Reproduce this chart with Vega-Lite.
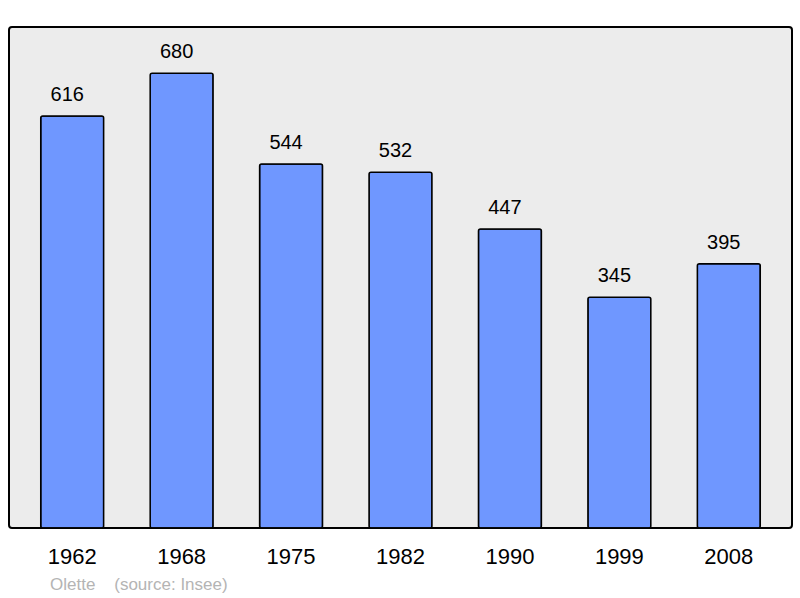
{
  "$schema": "https://vega.github.io/schema/vega-lite/v6.json",
  "width": 783,
  "height": 501,
  "autosize": "none",
  "padding": {"left": 9, "top": 27, "right": 8, "bottom": 70},
  "background": "white",
  "title": {
    "text": "Olette\u00a0\u00a0\u00a0\u00a0(source: Insee)",
    "orient": "bottom",
    "anchor": "start",
    "dx": 41,
    "offset": 10,
    "fontSize": 17,
    "fontWeight": "normal",
    "font": "Liberation Sans",
    "color": "#b4b4b4"
  },
  "data": {
    "values": [
      {"year": "1962", "pop": 616},
      {"year": "1968", "pop": 680},
      {"year": "1975", "pop": 544},
      {"year": "1982", "pop": 532},
      {"year": "1990", "pop": 447},
      {"year": "1999", "pop": 345},
      {"year": "2008", "pop": 395}
    ]
  },
  "encoding": {
    "x": {
      "field": "year",
      "type": "ordinal",
      "scale": {"paddingInner": 0.425, "paddingOuter": 0.29},
      "axis": {
        "title": null,
        "labelAngle": 0,
        "domain": false,
        "ticks": false,
        "labelPadding": 18,
        "labelFontSize": 22,
        "labelFont": "Liberation Sans",
        "labelColor": "#000000"
      }
    },
    "y": {
      "field": "pop",
      "type": "quantitative",
      "scale": {"domain": [0, 749], "nice": false},
      "axis": null
    }
  },
  "layer": [
    {
      "mark": {
        "type": "bar",
        "fill": "#6f97ff",
        "stroke": "#000000",
        "strokeWidth": 1.5,
        "cornerRadius": 2
      }
    },
    {
      "mark": {
        "type": "text",
        "dy": -15,
        "dx": -5,
        "baseline": "alphabetic",
        "fontSize": 20,
        "font": "Liberation Sans",
        "color": "#000000"
      },
      "encoding": {"text": {"field": "pop", "type": "quantitative"}}
    }
  ],
  "config": {
    "view": {
      "fill": "#ececec",
      "stroke": "#000000",
      "strokeWidth": 2,
      "cornerRadius": 3
    }
  }
}
